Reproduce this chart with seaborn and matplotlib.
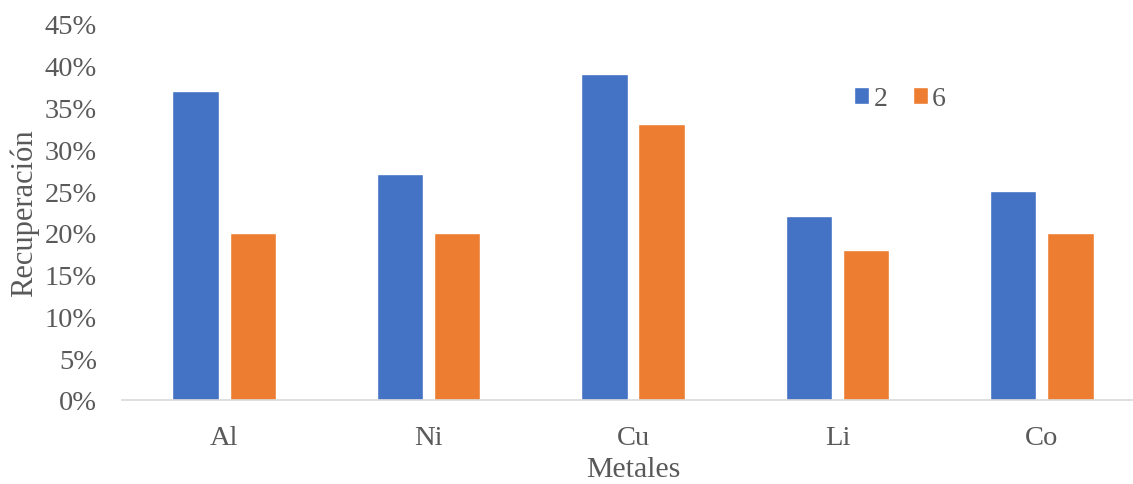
import matplotlib
matplotlib.use("Agg")
import matplotlib.pyplot as plt
import seaborn as sns
import pandas as pd
from matplotlib.patches import Patch

metales = ["Al", "Ni", "Cu", "Li", "Co"]
serie_2 = [37, 27, 39, 22, 25]
serie_6 = [20, 20, 33, 18, 20]
series = ["2", "6"]
yticks = [0, 5, 10, 15, 20, 25, 30, 35, 40, 45]

df = pd.DataFrame({
    "Metales": metales * 2,
    "Recuperación": serie_2 + serie_6,
    "Serie": ["2"] * len(metales) + ["6"] * len(metales),
})

sns.set_theme(style="white")
plt.rcParams['font.family'] = ['Liberation Serif', 'DejaVu Serif']
txt = "#595959"
colors = {"2": "#4472C4", "6": "#ED7D31"}

fig = plt.figure(figsize=(11.33, 4.85), dpi=100)
W, H = 1133, 485
ax = fig.add_axes([122 / W, (H - 401) / H, 1022 / W, 376 / H])

sns.barplot(data=df, x="Metales", y="Recuperación", hue="Serie", hue_order=series,
            palette=colors, width=0.56, gap=0.19, ax=ax, legend=False, saturation=1)

ax.set_xlim(-0.5, 4.5)
ax.set_ylim(0, 45)
ax.set_yticks(yticks)
ax.set_yticklabels([f"{v}%" for v in yticks], color=txt, fontsize=20.5)
ax.tick_params(axis="x", labelsize=20.5, labelcolor=txt, pad=18, length=0)
ax.tick_params(axis="y", length=0, pad=18)
for s in ["top", "right", "left"]:
    ax.spines[s].set_visible(False)
ax.spines["bottom"].set_color("#D9D9D9")
ax.spines["bottom"].set_linewidth(1.2)
ax.set_xlabel("Metales", fontsize=21.5, color=txt, labelpad=4)
ax.set_ylabel("Recuperación", fontsize=22, color=txt, labelpad=4)
ax.grid(False)

handles = [Patch(facecolor=colors[s], label=s) for s in series]
fig.legend(handles=handles, loc="center", bbox_to_anchor=(900 / W, 1 - 100 / H), ncol=2,
           frameon=False, fontsize=20, handlelength=0.55, handleheight=0.55,
           handletextpad=0.15, columnspacing=0.9, labelcolor=txt)

fig.savefig("out.png", dpi=100)
